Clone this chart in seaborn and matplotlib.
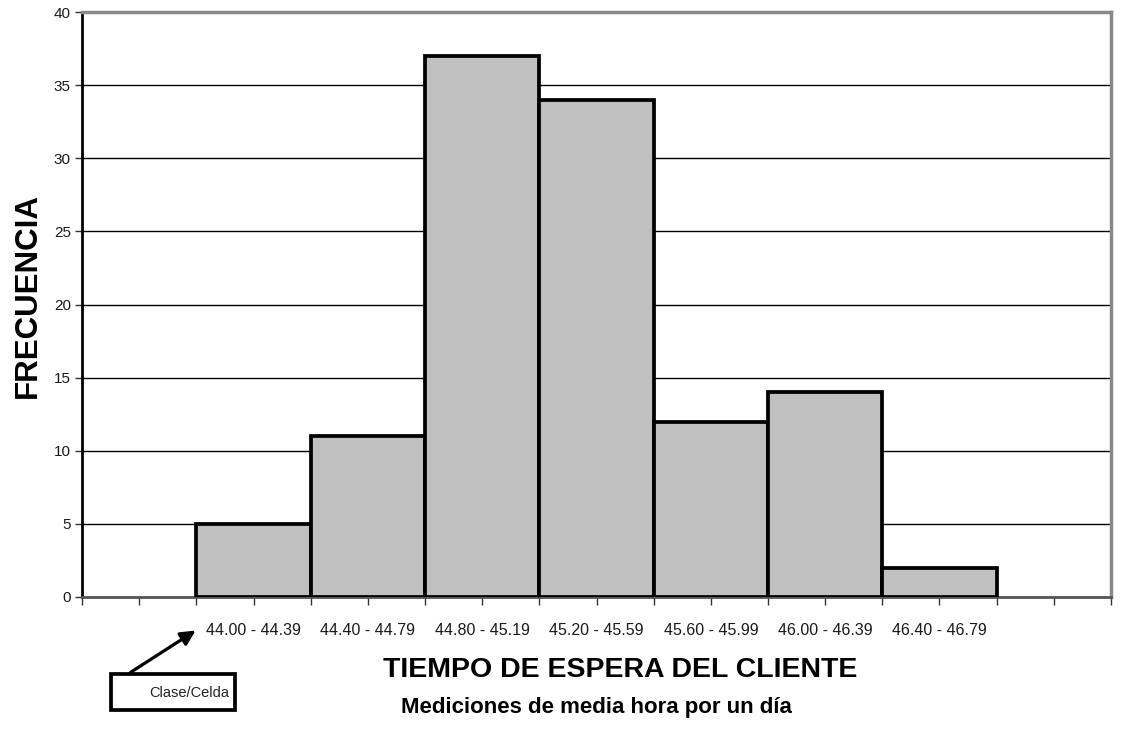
import pandas as pd
import matplotlib.pyplot as plt
from matplotlib import font_manager
from matplotlib.patches import Rectangle
import seaborn as sns

clases = ['44.00 - 44.39', '44.40 - 44.79', '44.80 - 45.19', '45.20 - 45.59',
          '45.60 - 45.99', '46.00 - 46.39', '46.40 - 46.79']
frecuencias = [5, 11, 37, 34, 12, 14, 2]
yticks = [0, 5, 10, 15, 20, 25, 30, 35, 40]

sns.set_style('white')
plt.rcParams['font.family'] = ['Liberation Sans', 'DejaVu Sans']
plt.rcParams['text.color'] = 'black'
plt.rcParams['xtick.color'] = 'black'
plt.rcParams['ytick.color'] = 'black'

nombres = {f.name for f in font_manager.fontManager.ttflist}
narrow = 'Liberation Sans Narrow' in nombres
fam_titulo = ['Liberation Sans Narrow', 'DejaVu Sans'] if narrow else ['Liberation Sans', 'DejaVu Sans']

df = pd.DataFrame({'Clase': clases, 'Frecuencia': frecuencias})
orden = ['izq'] + clases + ['der']

fig = plt.figure(figsize=(11.21, 7.40), dpi=100)
ax = fig.add_axes([82 / 1121, 143 / 740, 1029 / 1121, 585 / 740])

sns.barplot(x='Clase', y='Frecuencia', data=df, order=orden, color='#c0c0c0',
            saturation=1, edgecolor='black', linewidth=2.7, width=1.0, ax=ax, zorder=3)

ax.set_xlim(-0.5, len(orden) - 0.5)
ax.set_ylim(0, 40)
ax.set_yticks(yticks)
ax.yaxis.grid(True, color='black', linewidth=1)
ax.set_axisbelow(True)

# marcas en centros (con texto) y bordes de cada celda
centros = list(range(1, len(clases) + 1))
ax.set_xticks(centros)
ax.set_xticklabels(clases, fontsize=11.5, color='#1a1a1a')
ax.set_xticks([i - 0.5 for i in range(len(orden) + 1)] + [0, len(orden) - 1], minor=True)
ax.tick_params(axis='x', which='both', bottom=True, length=6, width=1, color='#333333', direction='out')
ax.tick_params(axis='x', which='major', pad=13)
ax.tick_params(axis='y', left=True, length=5, width=1, color='#333333', labelsize=11,
               labelcolor='#1a1a1a', pad=3)

ax.set_xlabel('')
ax.set_ylabel('')
ax.spines['left'].set_color('black')
ax.spines['left'].set_linewidth(2)
ax.spines['bottom'].set_color('#555555')
ax.spines['bottom'].set_linewidth(2)
for s in ['top', 'right']:
    ax.spines[s].set_visible(True)
    ax.spines[s].set_color('#888888')
    ax.spines[s].set_linewidth(2.5)

fig.text(28 / 1121, 1 - 296 / 740, 'FRECUENCIA', rotation=90, ha='center', va='center',
         fontsize=22.5, fontweight='bold')
fig.text(620 / 1121, 1 - 670 / 740, 'TIEMPO DE ESPERA DEL CLIENTE', ha='center', va='center',
         fontsize=24 if narrow else 20.5, fontweight='bold', family=fam_titulo)
fig.text(596 / 1121, 1 - 708 / 740, 'Mediciones de media hora por un día', ha='center', va='center',
         fontsize=16, fontweight='bold')

# recuadro "Clase/Celda" con flecha
fig.add_artist(Rectangle((111 / 1121, 1 - 710 / 740), 124 / 1121, 36 / 740,
                         transform=fig.transFigure, fill=False, lw=2.7, edgecolor='black'))
fig.text(229 / 1121, 1 - 693 / 740, 'Clase/Celda', ha='right', va='center', fontsize=10.5,
         color='#222222')
ax.annotate('', xy=(198 / 1121, 1 - 629 / 740), xytext=(128 / 1121, 1 - 674 / 740),
            xycoords='figure fraction', textcoords='figure fraction',
            arrowprops=dict(arrowstyle='-|>', color='black', lw=2.3, mutation_scale=22),
            annotation_clip=False)

fig.savefig('out.png', dpi=100)
